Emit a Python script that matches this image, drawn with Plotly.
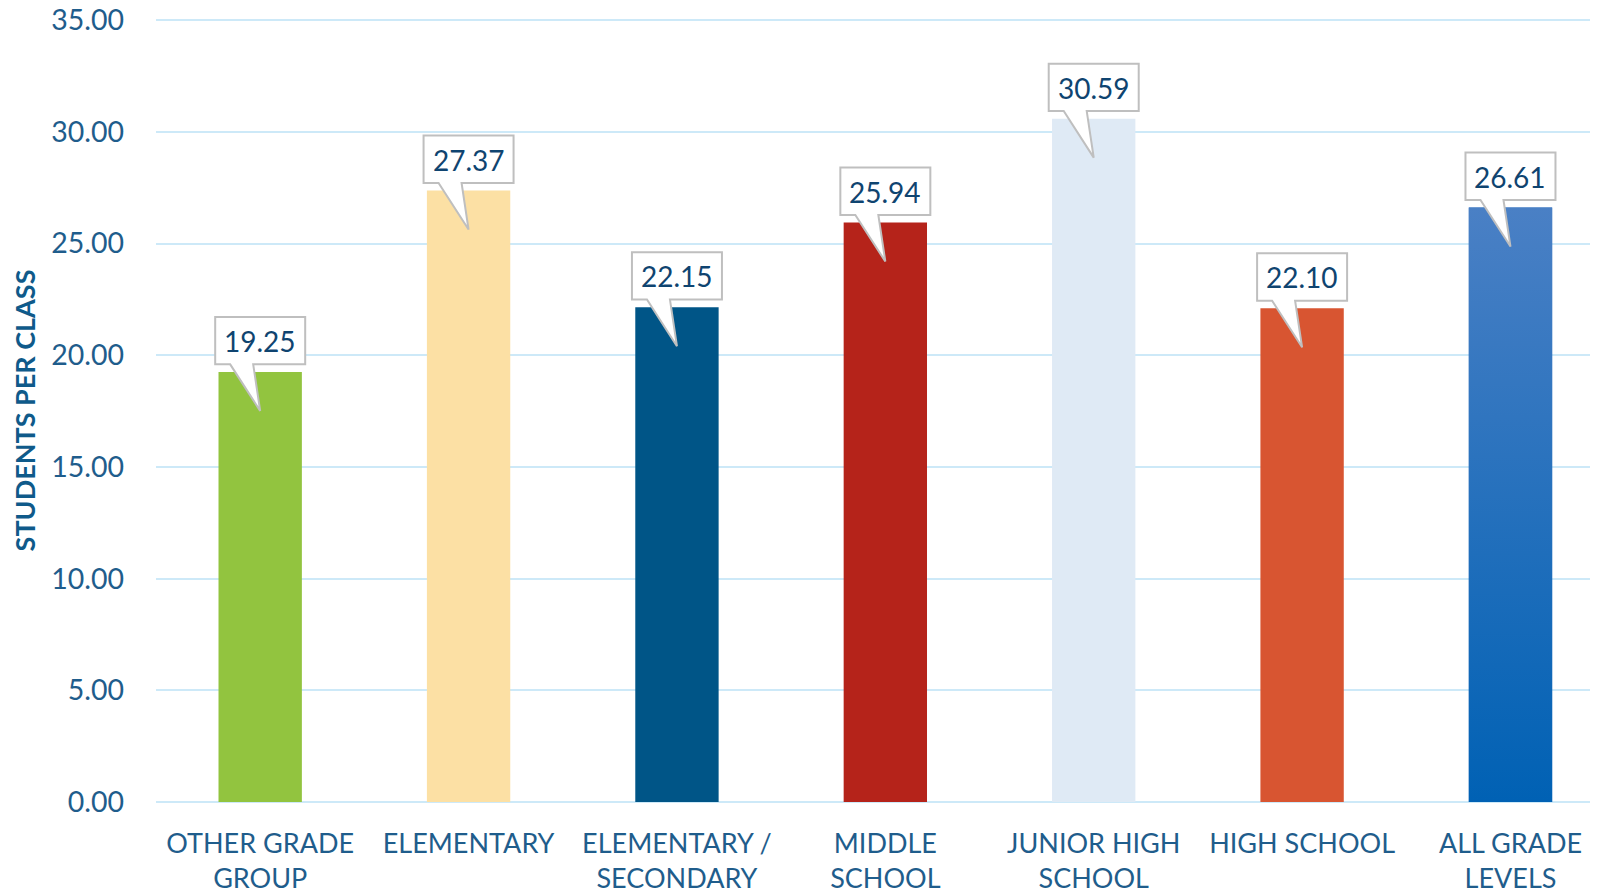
import plotly.graph_objects as go

categories = ["OTHER GRADE<br>GROUP", "ELEMENTARY", "ELEMENTARY /<br>SECONDARY",
              "MIDDLE<br>SCHOOL", "JUNIOR HIGH<br>SCHOOL", "HIGH SCHOOL", "ALL GRADE<br>LEVELS"]
values = [19.25, 27.37, 22.15, 25.94, 30.59, 22.10, 26.61]
bar_colors = ["#92c43f", "#fce0a4", "#005587", "#b5231a", "#dfeaf5", "#d85531", "#2a6ebf"]
gradient_top = "#4a80c5"
gradient_bottom = "#0061b4"
y_ticks = [0, 5, 10, 15, 20, 25, 30, 35]

FONT = "Lato"
TICK_COLOR = "#1f5d8c"
LABEL_COLOR = "#0f4470"
BAR_W = 0.4

xs = list(range(len(categories)))

fig = go.Figure()
fig.add_trace(go.Bar(x=xs, y=values, width=BAR_W, marker=dict(color=bar_colors, line=dict(width=0)),
                     hoverinfo="skip"))

# gradient overlay for the last bar
li = len(values) - 1
fig.add_trace(go.Scatter(
    x=[li - BAR_W / 2, li + BAR_W / 2, li + BAR_W / 2, li - BAR_W / 2, li - BAR_W / 2],
    y=[0, 0, values[li], values[li], 0],
    mode="lines", line=dict(width=0), fill="toself",
    fillgradient=dict(type="vertical", colorscale=[[0, gradient_bottom], [1, gradient_top]]),
    hoverinfo="skip", showlegend=False))

callout_path = "M -45,55 L 45,55 L 45,7.6 L -7,7.6 L 0,-39 L -30,7.6 L -45,7.6 Z"
for i, v in enumerate(values):
    fig.add_shape(type="path", xref="x", yref="y", xsizemode="pixel", ysizemode="pixel",
                  xanchor=i, yanchor=v, path=callout_path,
                  fillcolor="white", line=dict(color="#bfbfbf", width=2), layer="above")
    fig.add_annotation(x=i, y=v, yshift=31, text=f"{v:.2f}", showarrow=False,
                       font=dict(family=FONT, size=28, color=LABEL_COLOR))

fig.update_layout(
    width=1598, height=896,
    margin=dict(l=148, r=8, t=11, b=102),
    paper_bgcolor="white", plot_bgcolor="white",
    showlegend=False,
    xaxis=dict(range=[-0.5, 6.42], tickmode="array", tickvals=xs, ticktext=categories,
               showgrid=False, zeroline=False, showline=False, ticks="",
               tickfont=dict(family=FONT, size=27, color=TICK_COLOR), ticklabelstandoff=23,
               ticklabeloverflow="allow", automargin=False),
    yaxis=dict(range=[0, 35.05], tickmode="array", tickvals=y_ticks,
               ticktext=[f"{t:.2f}" for t in y_ticks],
               showgrid=True, gridcolor="#cde9f8", gridwidth=2,
               zeroline=True, zerolinecolor="#cde9f8", zerolinewidth=2,
               showline=False, ticks="", ticklabelstandoff=31,
               ticklabeloverflow="allow", automargin=False,
               tickfont=dict(family=FONT, size=28.5, color=TICK_COLOR),
               title=dict(text="<b>STUDENTS PER CLASS</b>", standoff=12,
                          font=dict(family=FONT, size=27, color="#0f5a8a"))),
)

fig.write_html("out.html")
